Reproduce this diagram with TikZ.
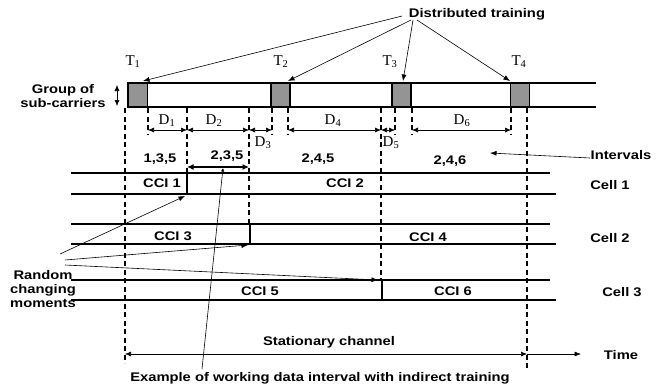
\documentclass[tikz,border=0pt]{standalone}
\usepackage{fontspec}
\setmainfont{Liberation Serif}
\newfontfamily\lblfont[FakeStretch=1.18]{Liberation Sans Bold}
\usetikzlibrary{arrows.meta}
\begin{document}
\begin{tikzpicture}[x=1pt,y=-1pt,
 lbl/.style={font=\lblfont\fontsize{12.5}{14}\selectfont, inner sep=0pt, align=center},
 ser/.style={font=\rmfamily\fontsize{15}{16}\selectfont, inner sep=0pt},
 tip/.style={-{Latex[length=6.5pt,width=5pt]}, line width=0.6pt},
 dim/.style={{Latex[length=6pt,width=5pt]}-{Latex[length=6pt,width=5pt]}, line width=0.6pt},
 thickdim/.style={{Latex[length=6.5pt,width=6pt]}-{Latex[length=6.5pt,width=6pt]}, line width=1.4pt},
 dline/.style={dash pattern=on 5pt off 3.5pt, line width=1.1pt},
 cline/.style={line width=1.1pt},
 tbox/.style={draw, line width=1.1pt, fill=black!42, minimum width=19pt, minimum height=24pt, inner sep=0pt},
]
\useasboundingbox (0,0) rectangle (667,389);

% band of sub-carriers
\draw[cline] (596,83) -- (128,83) -- (128,107) -- (596,107);
\node[tbox] (b1) at (138,95) {};
\node[tbox] (b2) at (280.5,95) {};
\node[tbox] (b3) at (401.5,95) {};
\node[tbox] (b4) at (520,95) {};
\node[ser] (t1) at (133,62) {T\textsubscript{1}};
\node[ser] (t2) at (281,62) {T\textsubscript{2}};
\node[ser] (t3) at (390,62) {T\textsubscript{3}};
\node[ser] (t4) at (519,62) {T\textsubscript{4}};

% distributed training
\node[lbl] (dt) at (477,14) {Distributed training};
\coordinate (d1s) at (402,16);
\coordinate (d2s) at (411,20);
\coordinate (d3s) at (413,20);
\coordinate (d4s) at (417,20);
\coordinate (d1e) at (143,81);
\coordinate (d2e) at (288,81);
\coordinate (d3e) at (403,81);
\coordinate (d4e) at (510,81);
\draw[tip] (d1s) -- (d1e);
\draw[tip] (d2s) -- (d2e);
\draw[tip] (d3s) -- (d3e);
\draw[tip] (d4s) -- (d4e);

% group of sub-carriers
\node[lbl] (gs) at (63,96) {Group of\\sub-carriers};
\coordinate (ga) at (117,85);
\coordinate (gb) at (117,106);
\draw[dim] (ga) -- (gb);

% dashed verticals
\draw[dline] (125,108) -- (125,363);
\draw[dline] (148,108) -- (148,135);
\draw[dline] (187,108) -- (187,173);
\draw[dline] (249,108) -- (249,224);
\draw[dline] (272,108) -- (272,135);
\draw[dline] (288,108) -- (288,135);
\draw[dline] (381,108) -- (381,280);
\draw[dline] (395,108) -- (395,135);
\draw[dline] (412,108) -- (412,135);
\draw[dline] (511,108) -- (511,135);
\draw[dline] (527,108) -- (527,371);

% D dimension arrows
\coordinate (p148) at (148,130);
\coordinate (p187) at (187,130);
\coordinate (p249) at (249,130);
\coordinate (p272) at (272,130);
\coordinate (p288) at (288,130);
\coordinate (p381) at (381,130);
\coordinate (p395) at (395,130);
\coordinate (p412) at (412,130);
\coordinate (p511) at (511,130);
\draw[dim] (p148) -- (p187);
\draw[dim] (p187) -- (p249);
\draw[dim] (p249) -- (p272);
\draw[dim] (p288) -- (p381);
\draw[dim] (p381) -- (p395);
\draw[dim] (p412) -- (p511);
\node[ser] (D1) at (167,121) {D\textsubscript{1}};
\node[ser] (D2) at (214,121) {D\textsubscript{2}};
\node[ser] (D3) at (263,143) {D\textsubscript{3}};
\node[ser] (D4) at (333,121) {D\textsubscript{4}};
\node[ser] (D5) at (391,143) {D\textsubscript{5}};
\node[ser] (D6) at (462,121) {D\textsubscript{6}};

% interval labels
\node[lbl] (i1) at (160,159) {1,3,5};
\node[lbl] (i2) at (227,156) {2,3,5};
\node[lbl] (i3) at (318,159) {2,4,5};
\node[lbl] (i4) at (450,161) {2,4,6};
\coordinate (w1) at (187,167);
\coordinate (w2) at (249,167);
\draw[thickdim] (w1) -- (w2);
\node[lbl] (iv) at (621,155) {Intervals};
\coordinate (ivs) at (590,158);
\coordinate (ive) at (490,153);
\draw[tip] (ivs) -- (ive);

% cell 1
\draw[cline] (71,173) -- (550,173);
\draw[cline] (71,194) -- (556,194);
\draw[cline] (187,173) -- (187,194);
\node[lbl] (c1) at (162,183) {CCI 1};
\node[lbl] (c2) at (345,183) {CCI 2};
\node[lbl] (cell1) at (610,185) {Cell 1};

% cell 2
\draw[cline] (71,224) -- (550,224);
\draw[cline] (71,244) -- (556,244);
\draw[cline] (250,224) -- (250,244);
\node[lbl] (c3) at (173,236) {CCI 3};
\node[lbl] (c4) at (428,237) {CCI 4};
\node[lbl] (cell2) at (610,238) {Cell 2};

% cell 3
\draw[cline] (71,280) -- (550,280);
\draw[cline] (71,300) -- (556,300);
\draw[cline] (382,280) -- (382,300);
\node[lbl] (c5) at (260,291) {CCI 5};
\node[lbl] (c6) at (453,291) {CCI 6};
\node[lbl] (cell3) at (622,292) {Cell 3};

% random changing moments
\node[lbl] (rc) at (43,289) {Random\\changing\\moments};
\coordinate (r1s) at (60,254);
\coordinate (r2s) at (65,260);
\coordinate (r3s) at (65,265);
\coordinate (r1e) at (185,196);
\coordinate (r2e) at (248,245);
\coordinate (r3e) at (378,280);
\draw[tip] (r1s) -- (r1e);
\draw[tip] (r2s) -- (r2e);
\draw[tip] (r3s) -- (r3e);

% stationary channel and time
\coordinate (s1) at (125,354);
\coordinate (s2) at (527,354);
\coordinate (s3) at (581,354);
\draw[dim] (s1) -- (s2);
\draw[tip] (s2) -- (s3);
\node[lbl] (st) at (329,342) {Stationary channel};
\node[lbl] (tm) at (621,355) {Time};

% example
\node[lbl] (ex) at (320,378) {Example of working data interval with indirect training};
\coordinate (e1) at (202,369);
\coordinate (e2) at (223,168);
\draw[-{Latex[length=3.5pt,width=3.5pt]}, line width=0.6pt] (e1) -- (e2);
\end{tikzpicture}
\end{document}
